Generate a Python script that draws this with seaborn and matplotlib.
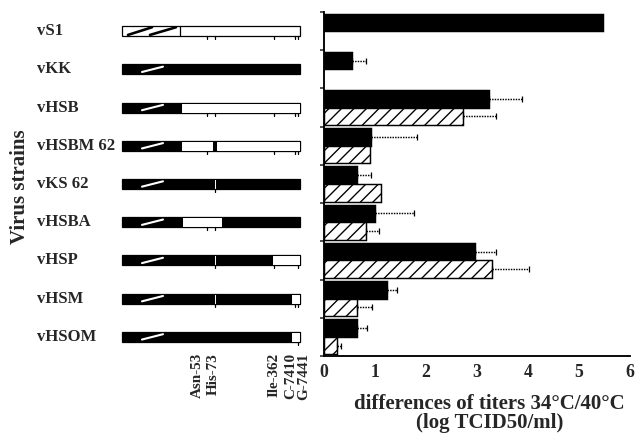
import numpy as np
import pandas as pd
import matplotlib
matplotlib.use("Agg")
import matplotlib.pyplot as plt
import seaborn as sns

# datos
strains = ["vS1", "vKK", "vHSB", "vHSBM 62", "vKS 62", "vHSBA", "vHSP", "vHSM", "vHSOM"]
black_vals = [5.48, 0.55, 3.24, 0.92, 0.64, 1.01, 2.97, 1.24, 0.64]
black_err = [0.0, 0.28, 0.64, 0.90, 0.28, 0.75, 0.40, 0.19, 0.20]
hatch_strains = ["vHSB", "vHSBM 62", "vKS 62", "vHSBA", "vHSP", "vHSM", "vHSOM"]
hatch_vals = [2.72, 0.90, 1.11, 0.82, 3.29, 0.64, 0.25]
hatch_err = [0.65, 0.0, 0.0, 0.26, 0.73, 0.31, 0.08]

# esquema del genoma (unidades de la figura, 122 a 300)
genome_start, genome_end = 122, 300
base_color = ["white", "black", "black", "black", "black", "black", "black", "black", "black"]
white_windows = [
    [],
    [],
    [(181, 300)],
    [(181, 213), (216, 300)],
    [(214, 216.5)],
    [(182, 222)],
    [(214, 216.5), (272, 300)],
    [(214, 216.5), (291, 300)],
    [(291, 300)],
]
mark_pos = [
    [207, 215, 274, 295, 298],
    [],
    [207, 215, 274, 295, 298],
    [207, 274, 295, 298],
    [215],
    [207, 215],
    [215, 274, 298],
    [215, 295, 298],
    [298],
]
mut_labels = ["Asn-53", "His-73", "Ile-362", "C-7410", "G-7441"]
mut_label_x = [197, 213, 274, 291, 304]

sns.set_style("white")
plt.rcParams["font.family"] = ["Liberation Serif", "DejaVu Serif"]
plt.rcParams["font.weight"] = "bold"
plt.rcParams["hatch.linewidth"] = 1.3

fig = plt.figure(figsize=(639 / 75, 439 / 75), dpi=75)
ax0 = fig.add_axes([0.0, 0.1891, 0.5070, 0.7836])
ax = fig.add_axes([0.5070, 0.1891, 0.4789, 0.7836])

# %%
# panel izquierdo: esquema de las cepas
ax0.set_xlim(0, 324)
ax0.set_ylim(8.5, -0.5)
ax0.axis("off")
row_h = 0.26
for i, s in enumerate(strains):
    ax0.barh(i, genome_end - genome_start, left=genome_start, height=row_h,
             color=base_color[i], edgecolor="black", linewidth=1.2)
    for a, b in white_windows[i]:
        ax0.barh(i, b - a, left=a, height=row_h, color="white",
                 edgecolor="black", linewidth=1.0)
    if base_color[i] == "white":
        # region rayada de vS1
        ax0.plot([128, 152], [i + 0.1, i - 0.1], color="black", lw=2.5)
        ax0.plot([150, 176], [i + 0.1, i - 0.1], color="black", lw=2.5)
        ax0.plot([180, 180], [i - row_h / 2, i + row_h / 2], color="black", lw=1.2)
    else:
        ax0.plot([142, 163], [i + 0.07, i - 0.07], color="white", lw=2)
    for m in mark_pos[i]:
        ax0.plot([m, m], [i + row_h / 2, i + row_h / 2 + 0.08], color="black", lw=1.2)
    ax0.text(37, i, s, ha="left", va="center", fontsize=16, fontweight="bold")

for lab, x in zip(mut_labels, mut_label_x):
    ax0.text(x, 8.42, lab, rotation=90, ha="center", va="top",
             fontsize=14.5, fontweight="bold")

fig.text(0.031, 0.575, "Virus strains", rotation=90, ha="center", va="center",
         fontsize=20, fontweight="bold")

# %%
# panel derecho: barras
df = pd.concat([
    pd.DataFrame({"strain": strains, "serie": "34", "valor": black_vals, "err": black_err}),
    pd.DataFrame({"strain": hatch_strains, "serie": "40", "valor": hatch_vals, "err": hatch_err}),
], ignore_index=True)

sns.barplot(data=df, x="valor", y="strain", hue="serie", order=strains,
            hue_order=["34", "40"], palette=["black", "white"], width=0.92,
            edgecolor="black", linewidth=1.4, errorbar=None, legend=False, ax=ax)

for bar in ax.containers[1]:
    bar.set_hatch("//")

for cont, serie in zip(ax.containers, ["34", "40"]):
    sub = df[df["serie"] == serie]
    xs, ys, es = [], [], []
    for p, e in zip(cont.patches, sub["err"]):
        if e > 0:
            xs.append(p.get_width())
            ys.append(p.get_y() + p.get_height() / 2)
            es.append(e)
    eb = ax.errorbar(xs, ys, xerr=[np.zeros(len(es)), es], fmt="none",
                     ecolor="black", elinewidth=1.4, capsize=3, capthick=1.2)
    eb[2][0].set_linestyle((0, (1, 0.8)))

ax.set_xlim(0, 6)
ax.set_ylim(8.5, -0.5)
ax.set_yticks(np.arange(-0.5, 9, 1))
ax.set_yticklabels([])
ax.set_ylabel("")
ax.set_xticks(range(7))
ax.set_xticks(np.arange(0.5, 6, 1), minor=True)
ax.tick_params(axis="x", which="major", direction="inout", length=7, width=1.5,
               labelsize=17, pad=4)
ax.tick_params(axis="x", which="minor", direction="inout", length=5, width=1.2)
ax.tick_params(axis="y", direction="out", length=4, width=1.5, left=True)
for lab in ax.get_xticklabels():
    lab.set_fontweight("bold")
for sp in ["top", "right"]:
    ax.spines[sp].set_visible(False)
for sp in ["left", "bottom"]:
    ax.spines[sp].set_linewidth(1.8)
    ax.spines[sp].set_color("black")

ax.set_xlabel("differences of titers 34°C/40°C\n(log TCID50/ml)", fontsize=20,
              fontweight="bold", labelpad=8, linespacing=0.95)
ax.xaxis.set_label_coords(0.54, -0.11, transform=ax.transAxes)
ax.xaxis.label.set_va("top")

fig.savefig("out.png", dpi=75)
